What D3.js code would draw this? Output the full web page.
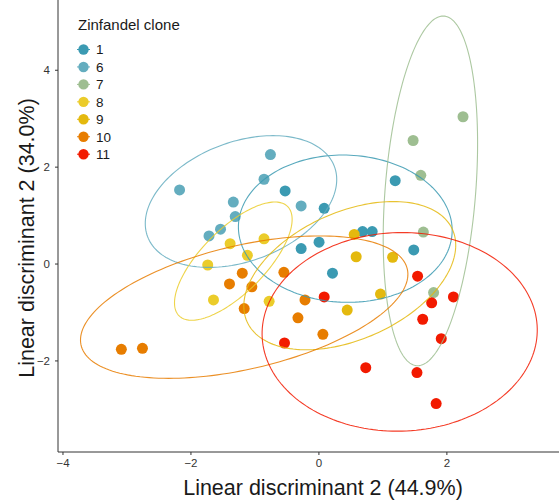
<!DOCTYPE html>
<html>
<head>
<meta charset="utf-8">
<script src="https://cdn.jsdelivr.net/npm/d3@7"></script>
<style>
  body { margin: 0; background: #fff; }
  text { font-family: Helvetica, Arial, "Liberation Sans", sans-serif; }
</style>
</head>
<body>
<div id="chart"></div>
<script>
// clones and colours (Zissou1, 7 steps)
const clones = ["1", "6", "7", "8", "9", "10", "11"];
const colors = ["#3B9AB2", "#64ADBF", "#9EBE91", "#EBCC2A", "#E4B90E", "#E77D00", "#F21A00"];

// LD scores per clone
const ld1 = {
  "1":  [1.20, -0.52, 0.09, -0.27, 0.01, 0.22, 0.69, 0.84, 1.49],
  "6":  [-0.75, -0.85, -2.17, -1.33, -1.30, -0.27, -1.53, -1.71],
  "7":  [2.26, 1.48, 1.60, 1.64, 1.80],
  "8":  [-0.85, -1.38, -1.11, -1.73, -1.64, -0.77],
  "9":  [0.56, 0.59, 1.16, 0.97, 0.45],
  "10": [-0.54, -1.19, -1.39, -1.04, -1.16, -0.21, -0.32, 0.07, -3.08, -2.75],
  "11": [0.09, -0.53, 1.55, 2.11, 1.77, 1.63, 1.92, 0.74, 1.54, 1.84]
};
const ld2 = {
  "1":  [1.71, 1.50, 1.14, 0.31, 0.44, -0.20, 0.66, 0.66, 0.28],
  "6":  [2.25, 1.74, 1.52, 1.27, 0.97, 1.19, 0.71, 0.57],
  "7":  [3.03, 2.54, 1.82, 0.65, -0.60],
  "8":  [0.51, 0.41, 0.17, -0.03, -0.75, -0.78],
  "9":  [0.60, 0.14, 0.13, -0.63, -0.96],
  "10": [-0.18, -0.20, -0.42, -0.48, -0.93, -0.75, -1.12, -1.46, -1.77, -1.75],
  "11": [-0.69, -1.64, -0.26, -0.69, -0.81, -1.15, -1.55, -2.15, -2.25, -2.89]
};

// 95% ellipses: centre, conjugate half-axis u (to top point) and horizontal half-chord v
const ellCx = [0.42, -1.21, 1.75, -1.33, 0.49, -1.16, 1.27];
const ellCy = [0.72, 1.28, 1.50, 0.05, -0.25, -0.90, -1.41];
const ellUx = [-0.04, 0.50, 0.20, 0.65, 0.68, 1.18, 0.04];
const ellUy = [1.52, 1.36, 3.61, 1.22, 1.53, 1.47, 2.05];
const ellVx = [1.67, 1.41, 0.71, 0.65, 1.51, 2.27, 2.15];

const xTicks = [-4, -2, 0, 2];
const yTicks = [-2, 0, 2, 4];

//==============================================================================

const width = 559, height = 500;
const svg = d3.select("#chart").append("svg")
    .attr("width", width)
    .attr("height", height);

const x = d3.scaleLinear().domain([-4.07, 3.76]).range([58, 559]);
const y = d3.scaleLinear().domain([-3.89, 5.44]).range([452, 0]);
const color = d3.scaleOrdinal().domain(clones).range(colors);

const minus = d => d3.format("")(d).replace("-", "\u2212");

// axes
const xAxis = svg.append("g")
    .attr("transform", `translate(0,${y.range()[0]})`)
    .call(d3.axisBottom(x).tickValues(xTicks).tickSize(3).tickPadding(4).tickFormat(minus));
const yAxis = svg.append("g")
    .attr("transform", `translate(${x.range()[0]},0)`)
    .call(d3.axisLeft(y).tickValues(yTicks).tickSize(3).tickPadding(5).tickFormat(minus));

[xAxis, yAxis].forEach(g => {
  g.select(".domain").attr("stroke", "#333").attr("stroke-width", 1);
  g.selectAll(".tick line").attr("stroke", "#333");
  g.selectAll(".tick text").attr("fill", "#333").attr("font-size", 11.5);
});
// domain lines run to the edges (no end caps)
xAxis.select(".domain").attr("d", `M${x.range()[0]},0H${x.range()[1]}`);
yAxis.select(".domain").attr("d", `M0,${y.range()[0]}V${y.range()[1]}`);

svg.append("text")
    .attr("x", 323).attr("y", 495)
    .attr("text-anchor", "middle")
    .attr("font-size", 21.5)
    .attr("fill", "#1a1a1a")
    .text("Linear discriminant 2 (44.9%)");

svg.append("text")
    .attr("transform", "translate(34,238) rotate(-90)")
    .attr("text-anchor", "middle")
    .attr("font-size", 21.5)
    .attr("fill", "#1a1a1a")
    .text("Linear discriminant 2 (34.0%)");

// points
const points = clones.flatMap(c => ld1[c].map((v, i) => ({clone: c, x: v, y: ld2[c][i]})));

svg.append("g")
  .selectAll("circle")
  .data(points)
  .join("circle")
    .attr("cx", d => x(d.x))
    .attr("cy", d => y(d.y))
    .attr("r", 5.5)
    .attr("fill", d => color(d.clone));

// ellipses
const ellipses = clones.map((c, i) => ({
  clone: c, cx: ellCx[i], cy: ellCy[i], ux: ellUx[i], uy: ellUy[i], vx: ellVx[i]
}));
const ts = d3.range(0, 2 * Math.PI + 0.001, Math.PI / 90);
const line = d3.line().x(p => x(p[0])).y(p => y(p[1]));

svg.append("g")
    .attr("fill", "none")
    .attr("stroke-width", 1.1)
  .selectAll("path")
  .data(ellipses)
  .join("path")
    .attr("stroke", d => color(d.clone))
    .attr("stroke-opacity", 0.85)
    .attr("d", d => line(ts.map(t => [
      d.cx + d.ux * Math.cos(t) + d.vx * Math.sin(t),
      d.cy + d.uy * Math.cos(t)
    ])));

// legend
const legend = svg.append("g").attr("transform", "translate(78,0)");
legend.append("text")
    .attr("x", 0).attr("y", 30)
    .attr("font-size", 15)
    .attr("fill", "#1a1a1a")
    .text("Zinfandel clone");

const item = legend.selectAll("g.item")
  .data(clones)
  .join("g")
    .attr("class", "item")
    .attr("transform", (d, i) => `translate(0,${49.5 + i * 17.45})`);
item.append("line")
    .attr("x1", -1).attr("x2", 12)
    .attr("stroke", d => color(d))
    .attr("stroke-width", 1);
item.append("circle")
    .attr("cx", 5.5).attr("r", 5.2)
    .attr("fill", d => color(d));
item.append("text")
    .attr("x", 18).attr("dy", "0.36em")
    .attr("font-size", 13.5)
    .attr("fill", "#1a1a1a")
    .text(d => d);
</script>
</body>
</html>
